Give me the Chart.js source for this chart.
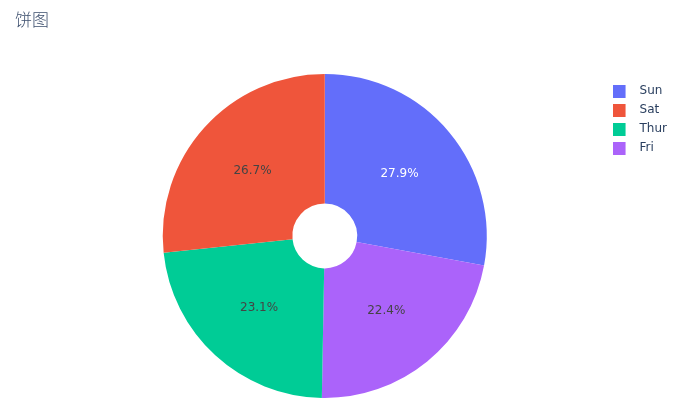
<!DOCTYPE html>
<html>
<head>
<meta charset="utf-8">
<script src="https://cdn.jsdelivr.net/npm/chart.js@4.4.0/dist/chart.umd.min.js"></script>
<style>
  html, body { margin: 0; padding: 0; background: #fff; }
  #wrap { width: 682px; height: 407px; }
</style>
</head>
<body>
<div id="wrap"><canvas id="pie" width="682" height="407"></canvas></div>
<script>
// Dados: média da conta por dia, na ordem de desenho (sentido horário a partir do topo)
const chartTitle = '饼图';
const days = ['Sun', 'Fri', 'Thur', 'Sat'];
const values = [21.41, 17.15, 17.68, 20.44];

// Estilos
const sliceColors = ['#636efa', '#ab63fa', '#00cc96', '#ef553b'];
const textColors = ['#ffffff', '#444444', '#444444', '#444444'];
const fontFamily = '"DejaVu Sans", verdana, "Noto Sans CJK SC", sans-serif';
const titleFamily = '"Noto Sans CJK SC", "DejaVu Sans", sans-serif';

// Quadradinho da legenda com espaço à direita (como no plotly)
function legendSwatch(color) {
    const c = document.createElement('canvas');
    c.width = 21;
    c.height = 13;
    const g = c.getContext('2d');
    g.fillStyle = color;
    g.fillRect(0, 0, 13, 13);
    return c;
}

// Título no canto superior esquerdo
const titlePlugin = {
    id: 'cornerTitle',
    afterDraw(chart) {
        const ctx = chart.ctx;
        ctx.save();
        ctx.font = '300 17px ' + titleFamily;
        ctx.fillStyle = '#3d4f6e';
        ctx.textAlign = 'left';
        ctx.textBaseline = 'middle';
        ctx.fillText(chartTitle, 15, 20);
        ctx.restore();
    }
};

// Percentuais dentro das fatias
const percentLabels = {
    id: 'percentLabels',
    afterDatasetsDraw(chart) {
        const ctx = chart.ctx;
        const total = values.reduce((s, v) => s + v, 0);
        const meta = chart.getDatasetMeta(0);
        ctx.save();
        ctx.font = '12px ' + fontFamily;
        ctx.textAlign = 'center';
        ctx.textBaseline = 'middle';
        meta.data.forEach((arc, i) => {
            const p = arc.getCenterPoint();
            ctx.fillStyle = textColors[i];
            ctx.fillText((values[i] / total * 100).toFixed(1) + '%', p.x, p.y);
        });
        ctx.restore();
    }
};

const defaultLabels = Chart.overrides.doughnut.plugins.legend.labels.generateLabels;

new Chart(document.getElementById('pie').getContext('2d'), {
    type: 'doughnut',
    data: {
        labels: days,
        datasets: [{
            data: values,
            backgroundColor: sliceColors,
            borderWidth: 0,
            hoverOffset: 0
        }]
    },
    options: {
        responsive: false,
        animation: false,
        cutout: '20%',
        layout: {
            padding: { top: 74, bottom: 9, left: 44, right: 5 }
        },
        plugins: {
            title: { display: false },
            tooltip: { enabled: false },
            legend: {
                position: 'right',
                align: 'start',
                title: {
                    display: true,
                    text: '',
                    font: { size: 1, lineHeight: 1 },
                    padding: { top: 3, bottom: 0 }
                },
                labels: {
                    usePointStyle: true,
                    pointStyleWidth: 21,
                    padding: 7,
                    color: '#2a3f5f',
                    font: { family: fontFamily, size: 12 },
                    sort: (a, b) => values[b.index] - values[a.index],
                    generateLabels: function(chart) {
                        return defaultLabels(chart).map(item => {
                            item.pointStyle = legendSwatch(sliceColors[item.index]);
                            item.lineWidth = 0;
                            return item;
                        });
                    }
                }
            }
        }
    },
    plugins: [titlePlugin, percentLabels]
});
</script>
</body>
</html>
